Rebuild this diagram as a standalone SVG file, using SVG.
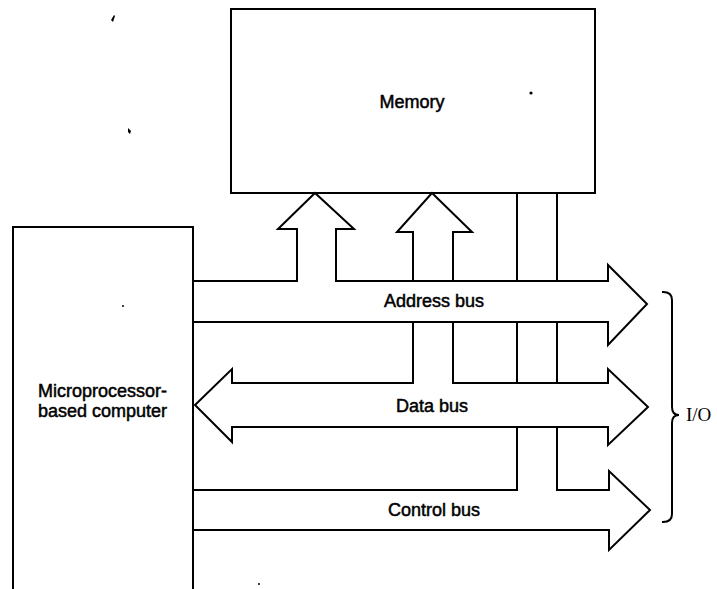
<svg xmlns="http://www.w3.org/2000/svg" width="717" height="589" viewBox="0 0 717 589">
<style>
.ln{fill:none;stroke:#000;stroke-width:2;stroke-linejoin:miter;stroke-linecap:square}
.bx{fill:#fff;stroke:#000;stroke-width:2}
.t{font-family:"Liberation Sans",Arial,sans-serif;font-size:18px;fill:#000;stroke:#000;stroke-width:0.5}
.io{font-family:"Liberation Serif","Times New Roman",serif;font-size:19px;fill:#000}
.spk{fill:#000}
</style>
<rect width="717" height="589" fill="#fff"/>
<g id="memory">
<rect class="bx" x="231" y="9" width="364" height="184"/>
<text class="t" x="412" y="108" text-anchor="middle">Memory</text>
</g>
<g id="microprocessor">
<rect class="bx" x="13" y="227" width="180" height="400"/>
<text class="t" x="38" y="397">Microprocessor-</text>
<text class="t" x="38" y="417">based computer</text>
</g>
<g id="connectors">
<!-- address bus -->
<path class="ln" d="M193,281 H297 V229 H278 L315,193 L354,229 H336 V281 H608 V265 L647,304 L608,345 V322 H193"/>
<!-- data channel to memory -->
<path class="ln" d="M413,281 V232 H397 L432,193 L472,232 H453 V281"/>
<path class="ln" d="M413,322 V383 M453,322 V383"/>
<!-- control channel -->
<path class="ln" d="M517,193 V281 M557,193 V281 M517,322 V383 M557,322 V383"/>
<!-- data bus -->
<path class="ln" d="M413,383 H232 V369 L195,405 L232,442 V427 H608 V445 L648,407 L608,369 V383 H453"/>
<!-- control bus -->
<path class="ln" d="M193,490 H517 V427 M557,427 V490 H609 V471 L650,510 L609,550 V530 H193"/>
</g>
<g id="labels">
<text class="t" x="434" y="307" text-anchor="middle">Address bus</text>
<text class="t" x="432" y="412" text-anchor="middle">Data bus</text>
<text class="t" x="434" y="516" text-anchor="middle">Control bus</text>
</g>
<g id="io">
<path class="ln" stroke-width="1.8" d="M663,292 Q672,292 672,300 V407 Q672,415 679,415 Q672,415 672,423 V514 Q672,522 663,522"/>
<text class="io" x="686" y="421">I/O</text>
</g>
<g id="specks">
<path class="spk" d="M111,20 L114,15 L115,16 L113,22 Z"/>
<path class="spk" d="M128,128 L131,131 L130,134 L128,132 Z"/>
<circle class="spk" cx="531" cy="93" r="1.6"/>
<circle class="spk" cx="123" cy="306" r="1"/>
<circle class="spk" cx="259" cy="584" r="1"/>
</g>
</svg>
